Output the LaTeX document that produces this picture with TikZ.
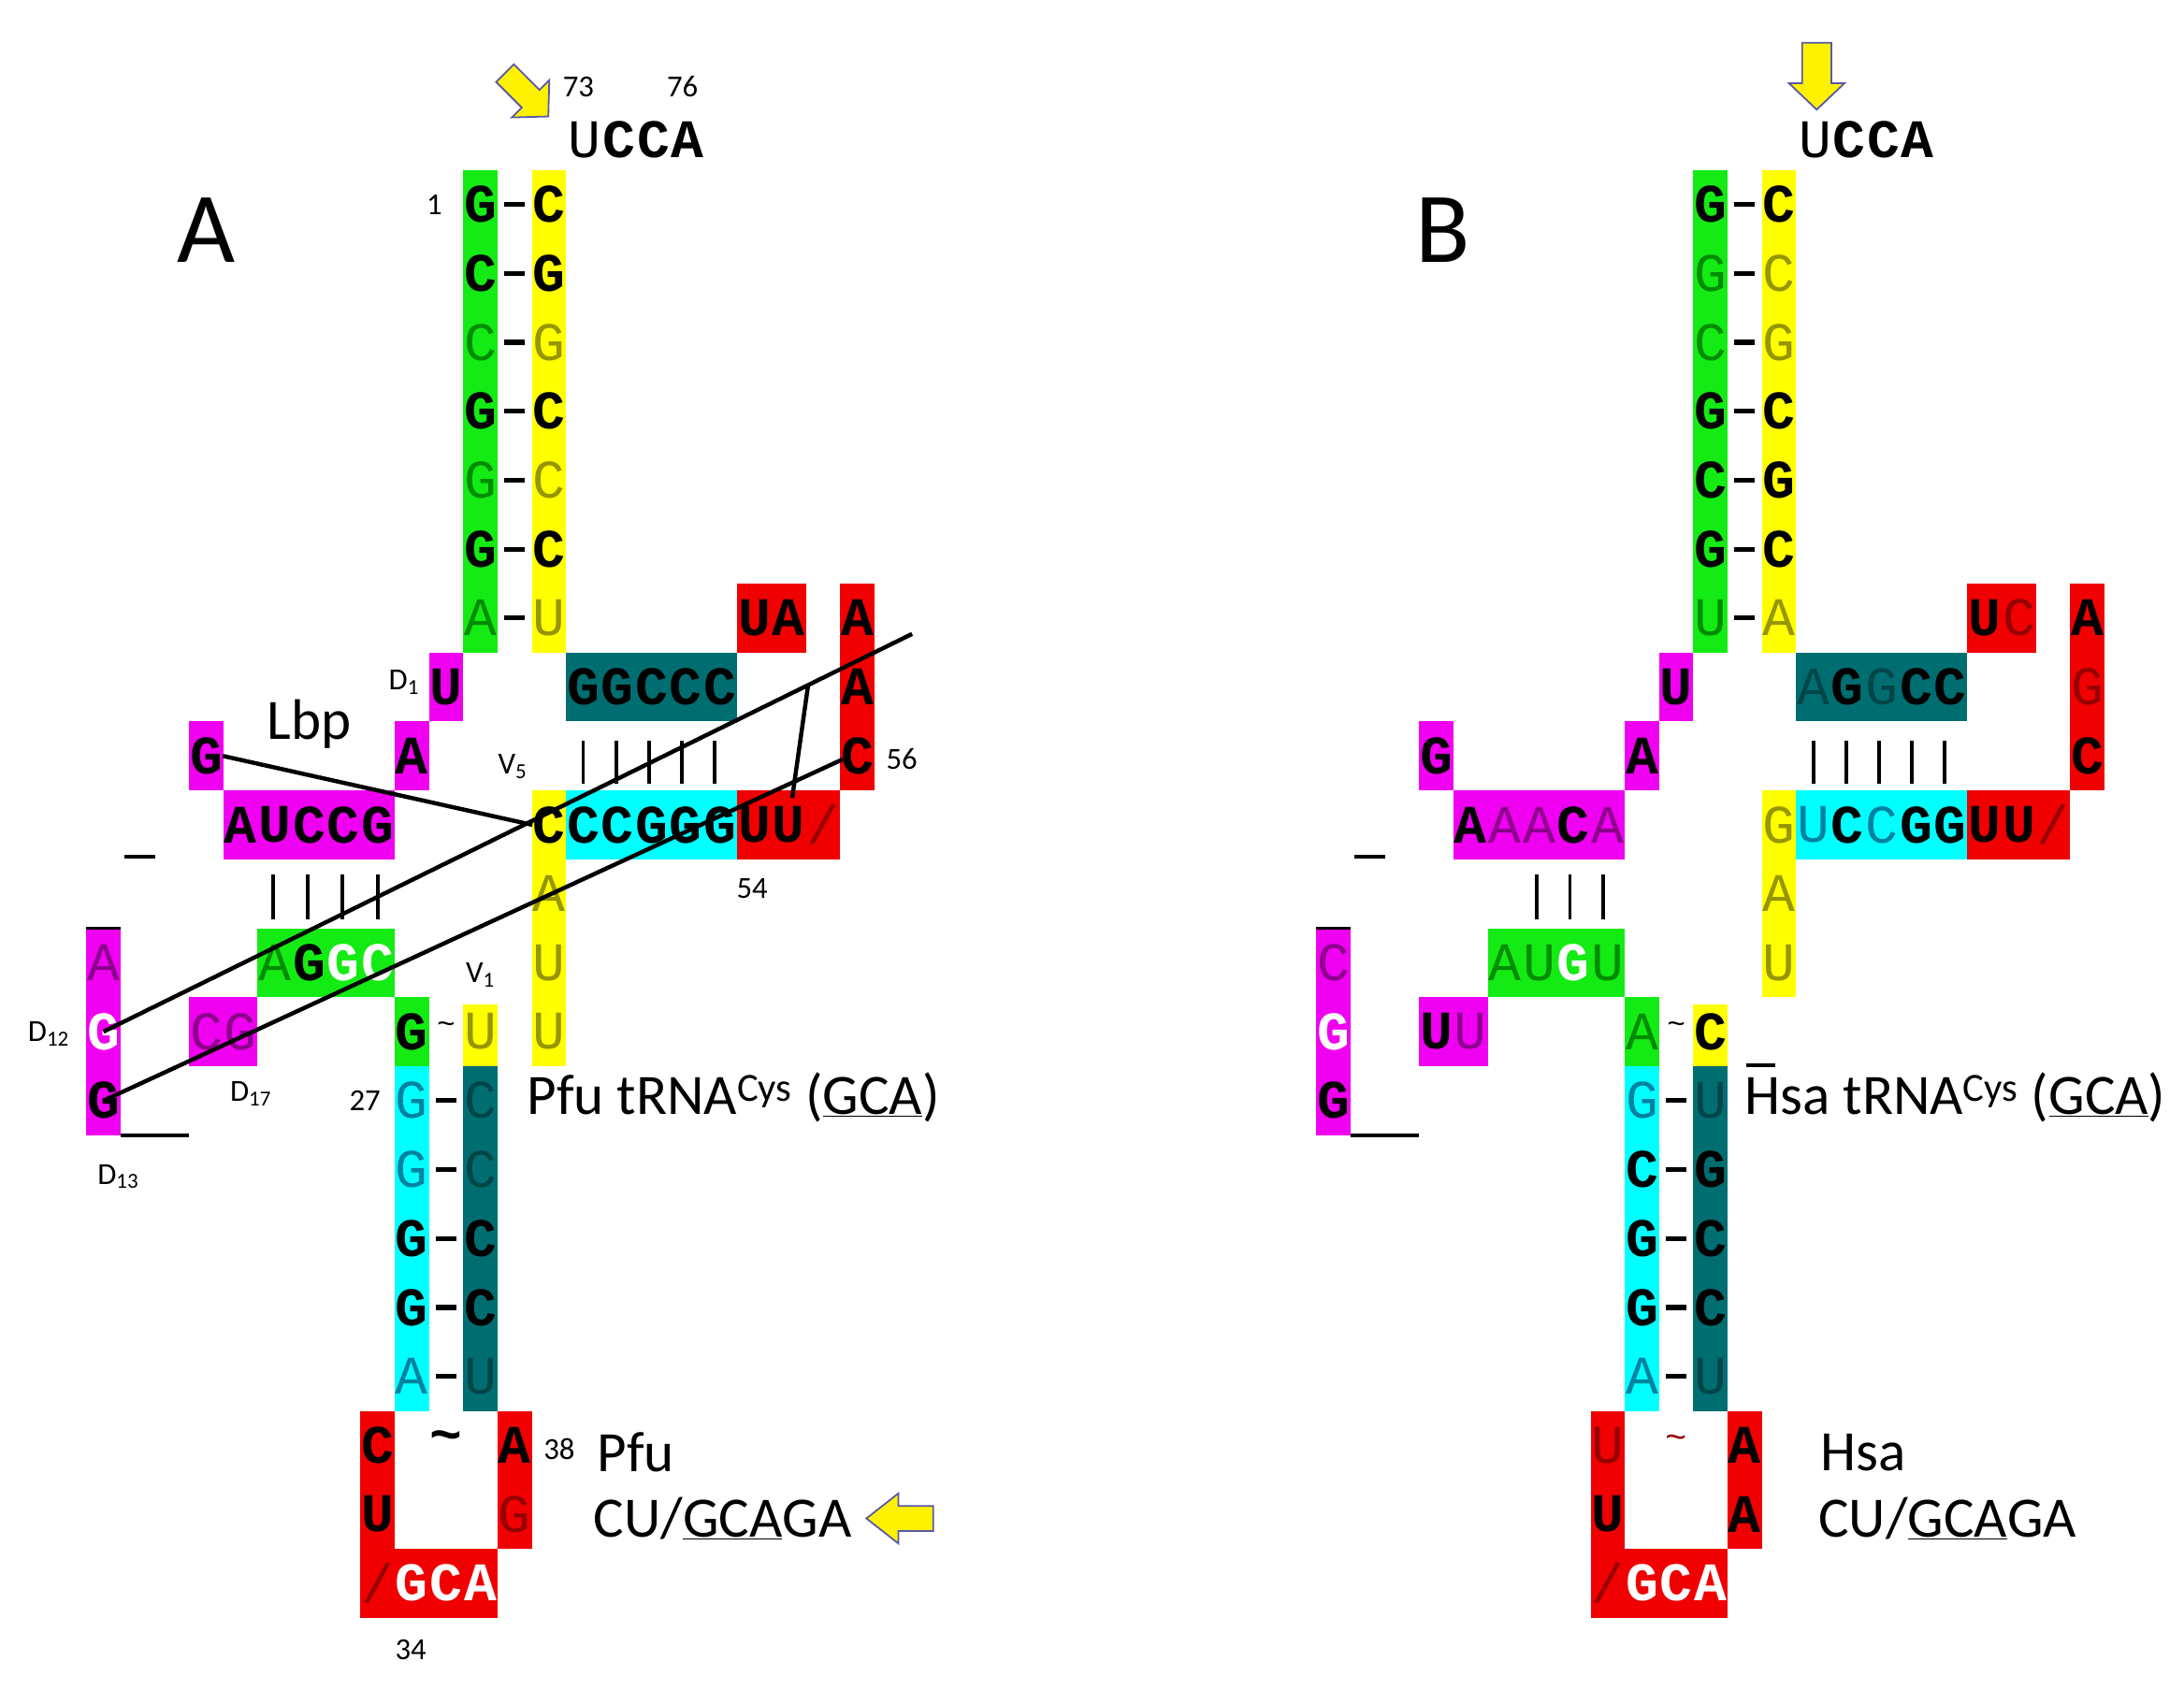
\documentclass[tikz,border=0pt]{standalone}
\usepackage{fontspec}
\newfontfamily\monof{Liberation Mono}
\newfontfamily\labf{Carlito}
\definecolor{kG}{RGB}{20,235,20}
\definecolor{kY}{RGB}{255,255,0}
\definecolor{kM}{RGB}{240,0,240}
\definecolor{kC}{RGB}{0,255,255}
\definecolor{kT}{RGB}{0,110,112}
\definecolor{kR}{RGB}{240,0,0}
\definecolor{tG}{RGB}{0,140,0}
\definecolor{tY}{RGB}{150,150,0}
\definecolor{tM}{RGB}{140,0,140}
\definecolor{tC}{RGB}{0,130,160}
\definecolor{tT}{RGB}{0,70,72}
\definecolor{tR}{RGB}{150,0,0}
\tikzset{
 L/.style={inner sep=0pt,font=\monof\fontsize{39}{39}\selectfont},
 b/.style={L,font=\monof\bfseries\fontsize{39}{39}\selectfont,text=black},
 w/.style={b,text=white},
 ng/.style={L,text=tG}, ny/.style={L,text=tY}, nm/.style={L,text=tM},
 nc/.style={L,text=tC}, nt/.style={L,text=tT}, nr/.style={L,text=tR},
 lab/.style={inner sep=0pt,font=\labf\fontsize{41}{41}\selectfont},
 num/.style={inner sep=0pt,font=\labf\fontsize{22}{22}\selectfont},
 big/.style={inner sep=0pt,font=\labf\fontsize{72}{72}\selectfont},
 bar/.style={line width=2.5pt},
 dsh/.style={line width=3.5pt},
 conn/.style={line width=3pt},
 yarrow/.style={fill=yellow,draw=gray!70!blue,line width=1.2pt},
}
\newcommand\hseq[3]{\foreach \l/\s [count=\i] in {#3} \node[\s] at ({#1+\i-0.5},#2) {\l};}
\newcommand\vseq[3]{\foreach \l/\s [count=\i] in {#3} \node[\s] at (#1,{#2+\i-0.5}) {\l};}
\newcommand\dashes[2]{\foreach \j in {#2} \draw[dsh] (#1-0.3,\j+0.5)--(#1+0.3,\j+0.5);}
\newcommand\skel{%
 \fill[kG] (11,0) rectangle (12,7);
 \fill[kY] (13,0) rectangle (14,7);
 \fill[kM] (10,7) rectangle (11,8);
 \fill[kM] (9,8) rectangle (10,9);
 \fill[kM] (3,8) rectangle (4,9);
 \fill[kM] (4,9) rectangle (9,10);
 \fill[kG] (5,11) rectangle (9,12);
 \fill[kM] (0,11) rectangle (1,14);
 \fill[kM] (3,12) rectangle (5,13);
 \fill[kG] (9,12) rectangle (10,13);
 \fill[kY] (11,12.1) rectangle (12,13);
 \fill[kC] (9,13) rectangle (10,18);
 \fill[kT] (11,13) rectangle (12,18);
 \fill[kR] (8,18) rectangle (9,21);
 \fill[kR] (8,20) rectangle (12,21);
 \fill[kR] (12,18) rectangle (13,20);
 \fill[kC] (14,9) rectangle (19,10);
 \fill[kR] (19,9) rectangle (22,10);
 \fill[kT] (14,7) rectangle (19,8);
 \fill[kR] (19,6) rectangle (21,7);
 \fill[kR] (22,6) rectangle (23,9);
 \dashes{12.5}{0,1,2,3,4,5,6}
 \dashes{10.5}{13,14,15,16,17}
 \draw[bar] (0,11)--(1,11);
 \draw[bar] (1,14)--(3,14);
 \draw[bar] (1.1,9.96)--(2.0,9.96);
 \foreach \k in {0,...,4} \draw[bar] ({14.5+0.96*\k},8.28)--({14.5+0.96*\k},8.9);
}
\begin{document}
\begin{tikzpicture}[x=24.6pt,y=-49.5pt]
\useasboundingbox (-2.520,-2.465) rectangle (61.22,22.04);
% ================= Panel A
\skel
\fill[kY] (13,9) rectangle (14,13);
\vseq{11.5}{0}{G/b,C/b,C/ng,G/b,G/ng,G/b,A/ng}
\vseq{13.5}{0}{C/b,G/b,G/ny,C/b,C/ny,C/b,U/ny}
\node[b] at (10.5,7.5) {U};
\node[b] at (9.5,8.5) {A};
\node[b] (gL) at (3.5,8.5) {G};
\hseq{4}{9.5}{A/b,U/b,C/b,C/b,G/b}
\hseq{5}{11.5}{A/ng,G/b,G/w,C/w}
\node[nm] at (0.5,11.5) {A};
\node[w] (d12) at (0.5,12.5) {G};
\node[b] (d13) at (0.5,13.5) {G};
\hseq{3}{12.5}{C/nm,G/nm}
\node[b] at (9.5,12.5) {G};
\node[L] at (10.5,12.45) {\fontsize{22}{22}\selectfont\char"7E};
\node[ny] at (11.5,12.5) {U};
\vseq{9.5}{13}{G/nc,G/nc,G/b,G/b,A/nc}
\vseq{11.5}{13}{C/nt,C/nt,C/b,C/b,U/nt}
\vseq{8.5}{18}{C/b,U/b}
\vseq{12.5}{18}{A/b,G/nr}
\node[b] at (10.5,18.45) {\char"7E};
\hseq{8}{20.5}{{/}/nr,G/w,C/w,A/w}
\node[b] (c5) at (13.5,9.5) {C};
\vseq{13.5}{10}{A/ny,U/ny,U/ny}
\hseq{14}{9.5}{C/b,C/b,G/b,G/b,G/b}
\hseq{19}{9.5}{U/b,U/b,{/}/nr}
\hseq{14}{7.5}{G/b,G/b,C/b,C/b,C/b}
\hseq{19}{6.5}{U/b,A/b}
\vseq{22.5}{6}{A/b,A/b,C/b}
\foreach \x in {5.45,6.46,7.48,8.5} \draw[bar] (\x,10.22)--(\x,10.87);
% labels A
\node[big] at (3.5,0.87) {A};
\node[num,anchor=west] at (13.9,-1.21) {73};
\node[num] at (17.4,-1.21) {76};
\hseq{14.05}{-0.44}{U/L,C/b,C/b,A/b}
\node[num] at (10.16,0.5) {1};
\node[num] at (9.27,7.43) {D\textsubscript{1}};
\node[lab] at (6.5,8.04) {Lbp};
\node[num] at (12.44,8.65) {V\textsubscript{5}};
\node[num] at (19.43,10.42) {54};
\node[num] at (23.8,8.55) {56};
\node[num] at (-1.1,12.53) {D\textsubscript{12}};
\node[num] at (4.8,13.4) {D\textsubscript{17}};
\node[num] at (0.93,14.6) {D\textsubscript{13}};
\node[num] at (11.5,11.68) {V\textsubscript{1}};
\node[num] at (8.13,13.5) {27};
\node[lab,anchor=west] at (12.85,13.45) {Pfu tRNA\textsuperscript{Cys} (\underline{GCA})};
\node[num] at (13.8,18.55) {38};
\node[lab,anchor=west] at (14.9,18.6) {Pfu};
\node[num] at (9.47,21.47) {34};
\node[lab,anchor=west] at (14.8,19.56) {CU/\underline{GCA}GA};
% connectors
\coordinate (e1) at (24.1,6.73);
\coordinate (e2) at (22.07,8.55);
\coordinate (s1) at (21.06,7.49);
\coordinate (s2) at (20.6,9.11);
\draw[conn] (gL.east) -- (c5.west);
\draw[conn] (d12.center) -- (e1);
\draw[conn] (d13.center) -- (e2);
\draw[conn] (s1) -- (s2);
% arrows
\begin{scope}[shift={(12.85,-1.09)},x=1pt,y=-1pt,rotate=45]
\draw[yarrow] (-9,-22)--(9,-22)--(9,4)--(19,4)--(0,22)--(-19,4)--(-9,4)--cycle;
\end{scope}
\begin{scope}[shift={(23.7,19.56)},x=1pt,y=-1pt]
\draw[yarrow] (25,-9)--(25,9)--(0,9)--(0,18)--(-23,0)--(0,-18)--(0,-9)--cycle;
\end{scope}
% ================= Panel B
\begin{scope}[xshift=35.9*24.6pt]
\skel
\fill[kY] (13,9) rectangle (14,12);
\vseq{11.5}{0}{G/b,G/ng,C/ng,G/b,C/b,G/b,U/ng}
\vseq{13.5}{0}{C/b,C/ny,G/ny,C/b,G/b,C/b,A/ny}
\node[b] at (10.5,7.5) {U};
\node[b] at (9.5,8.5) {A};
\node[b] at (3.5,8.5) {G};
\hseq{4}{9.5}{A/b,A/nm,A/nm,C/b,A/nm}
\hseq{5}{11.5}{A/ng,U/ng,G/w,U/ng}
\vseq{0.5}{11}{C/nm,G/w,G/b}
\hseq{3}{12.5}{U/b,U/nm}
\node[ng] at (9.5,12.5) {A};
\node[L] at (10.5,12.45) {\fontsize{22}{22}\selectfont\char"7E};
\node[b] at (11.5,12.5) {C};
\vseq{9.5}{13}{G/nc,C/b,G/b,G/b,A/nc}
\vseq{11.5}{13}{U/nt,G/b,C/b,C/b,U/nt}
\vseq{8.5}{18}{U/nr,U/b}
\vseq{12.5}{18}{A/b,A/b}
\node[nr] at (10.5,18.45) {\fontsize{26}{26}\selectfont\char"7E};
\hseq{8}{20.5}{{/}/nr,G/w,C/w,A/w}
\vseq{13.5}{9}{G/ny,A/ny,U/ny}
\hseq{14}{9.5}{U/nc,C/b,C/nc,G/b,G/b}
\hseq{19}{9.5}{U/b,U/b,{/}/nr}
\hseq{14}{7.5}{A/nt,G/b,G/nt,C/b,C/b}
\hseq{19}{6.5}{U/b,C/nr}
\vseq{22.5}{6}{A/b,G/nr,C/b}
\foreach \x in {6.42,7.4,8.37} \draw[bar] (\x,10.22)--(\x,10.87);
\node[big] at (3.69,0.87) {B};
\hseq{14.05}{-0.44}{U/L,C/b,C/b,A/b}
\node[lab,anchor=west] at (12.5,13.45) {Hsa tRNA\textsuperscript{Cys} (\underline{GCA})};
\draw[bar] (12.55,12.99)--(13.4,12.99);
\node[lab,anchor=west] at (14.7,18.6) {Hsa};
\node[lab,anchor=west] at (14.65,19.56) {CU/\underline{GCA}GA};
\begin{scope}[shift={(14.6,-1.36)},x=1pt,y=-1pt]
\draw[yarrow] (-10.5,-24)--(10.5,-24)--(10.5,5)--(20,5)--(0,24)--(-20,5)--(-10.5,5)--cycle;
\end{scope}
\end{scope}
\end{tikzpicture}
\end{document}
